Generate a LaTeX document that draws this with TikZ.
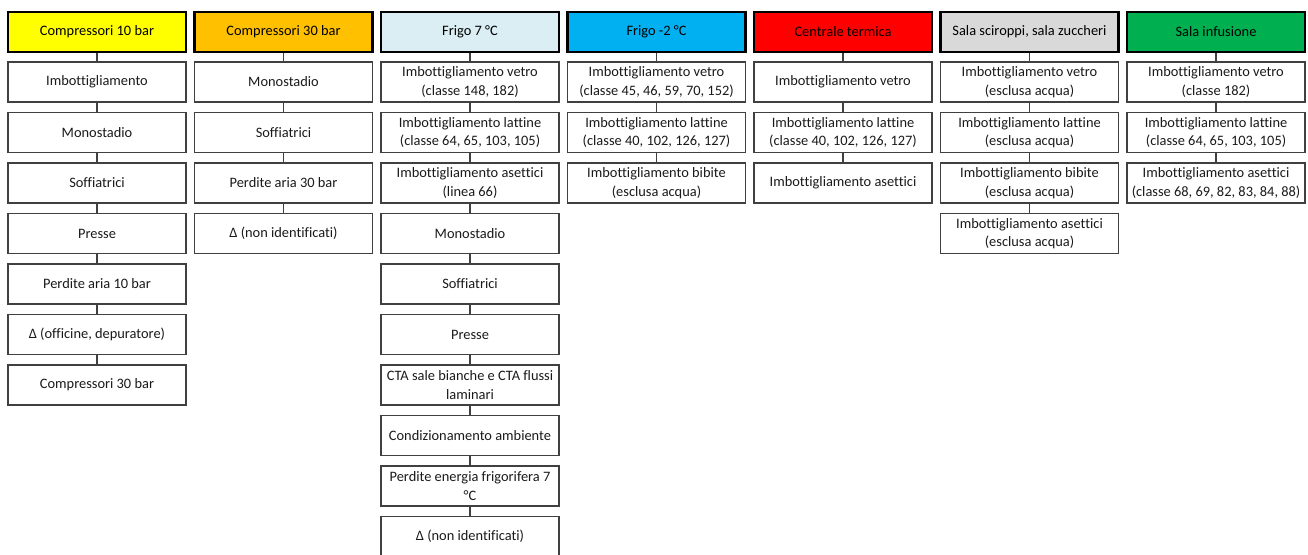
\documentclass[tikz,border=0pt]{standalone}
\usepackage{fontspec}
\setmainfont{Carlito}[Ligatures={NoCommon}]
\definecolor{cYellow}{HTML}{FFFF00}
\definecolor{cOrange}{HTML}{FFC000}
\definecolor{cIce}{HTML}{DAEEF3}
\definecolor{cCyan}{HTML}{00B0F0}
\definecolor{cRed}{HTML}{FF0000}
\definecolor{cGrey}{HTML}{D9D9D9}
\definecolor{cGreen}{HTML}{00B050}
\definecolor{cEdge}{HTML}{404040}
\definecolor{cInk}{HTML}{1A1A1A}
\begin{document}
\begin{tikzpicture}[x=1pt,y=-1pt,
  box/.style={rectangle, minimum width=178pt, minimum height=40pt, inner sep=0pt,
    align=center, font=\fontsize{14.4pt}{18.5pt}\selectfont},
  head/.style={box, draw=black, line width=2.4pt, text=black},
  item/.style={box, draw=cEdge, line width=1.3pt, fill=white, text=cInk},
  link/.style={draw=cEdge, line width=1.2pt}]
\useasboundingbox (0,0) rectangle (1308,554);
\fill[white] (0,0) rectangle (1308,554);

% column headers
\node[head, fill=cYellow] (h1) at (97,32)   {Compressori 10 bar};
\node[head, fill=cOrange] (h2) at (283.5,32) {Compressori 30 bar};
\node[head, fill=cIce]    (h3) at (470,32)  {Frigo 7 °C};
\node[head, fill=cCyan]   (h4) at (656.5,32) {Frigo -2 °C};
\node[head, fill=cRed]    (h5) at (843,32)  {Centrale termica};
\node[head, fill=cGrey]   (h6) at (1029.5,32) {Sala sciroppi, sala zuccheri};
\node[head, fill=cGreen]  (h7) at (1216,32) {Sala infusione};

% Compressori 10 bar
\node[item] (a1) at (97,82)    {Imbottigliamento};
\node[item] (a2) at (97,132.5) {Monostadio};
\node[item] (a3) at (97,183)   {Soffiatrici};
\node[item] (a4) at (97,233.5) {Presse};
\node[item] (a5) at (97,284)   {Perdite aria 10 bar};
\node[item] (a6) at (97,334.5) {Δ (officine, depuratore)};
\node[item] (a7) at (97,385)   {Compressori 30 bar};

% Compressori 30 bar
\node[item] (b1) at (283.5,82)    {Monostadio};
\node[item] (b2) at (283.5,132.5) {Soffiatrici};
\node[item] (b3) at (283.5,183)   {Perdite aria 30 bar};
\node[item] (b4) at (283.5,233.5) {Δ (non identificati)};

% Frigo 7 °C
\node[item] (c1)  at (470,82)    {Imbottigliamento vetro\\(classe 148, 182)};
\node[item] (c2)  at (470,132.5) {Imbottigliamento lattine\\(classe 64, 65, 103, 105)};
\node[item] (c3)  at (470,183)   {Imbottigliamento asettici\\(linea 66)};
\node[item] (c4)  at (470,233.5) {Monostadio};
\node[item] (c5)  at (470,284)   {Soffiatrici};
\node[item] (c6)  at (470,334.5) {Presse};
\node[item] (c7)  at (470,385)   {CTA sale bianche e CTA flussi\\laminari};
\node[item] (c8)  at (470,435.5) {Condizionamento ambiente};
\node[item] (c9)  at (470,486)   {Perdite energia frigorifera 7\\°C};
\node[item] (c10) at (470,536.5) {Δ (non identificati)};

% Frigo -2 °C
\node[item] (d1) at (656.5,82)    {Imbottigliamento vetro\\(classe 45, 46, 59, 70, 152)};
\node[item] (d2) at (656.5,132.5) {Imbottigliamento lattine\\(classe 40, 102, 126, 127)};
\node[item] (d3) at (656.5,183)   {Imbottigliamento bibite\\(esclusa acqua)};

% Centrale termica
\node[item] (e1) at (843,82)    {Imbottigliamento vetro};
\node[item] (e2) at (843,132.5) {Imbottigliamento lattine\\(classe 40, 102, 126, 127)};
\node[item] (e3) at (843,183)   {Imbottigliamento asettici};

% Sala sciroppi, sala zuccheri
\node[item] (f1) at (1029.5,82)    {Imbottigliamento vetro\\(esclusa acqua)};
\node[item] (f2) at (1029.5,132.5) {Imbottigliamento lattine\\(esclusa acqua)};
\node[item] (f3) at (1029.5,183)   {Imbottigliamento bibite\\(esclusa acqua)};
\node[item] (f4) at (1029.5,233.5) {Imbottigliamento asettici\\(esclusa acqua)};

% Sala infusione
\node[item] (g1) at (1216,82)    {Imbottigliamento vetro\\(classe 182)};
\node[item] (g2) at (1216,132.5) {Imbottigliamento lattine\\(classe 64, 65, 103, 105)};
\node[item] (g3) at (1216,183)   {Imbottigliamento asettici\\(classe 68, 69, 82, 83, 84, 88)};

% vertical chains
\foreach \u/\v in {h1/a1,a1/a2,a2/a3,a3/a4,a4/a5,a5/a6,a6/a7,
                   h2/b1,b1/b2,b2/b3,b3/b4,
                   h3/c1,c1/c2,c2/c3,c3/c4,c4/c5,c5/c6,c6/c7,c7/c8,c8/c9,c9/c10,
                   h4/d1,d1/d2,d2/d3,
                   h5/e1,e1/e2,e2/e3,
                   h6/f1,f1/f2,f2/f3,f3/f4,
                   h7/g1,g1/g2,g2/g3}
  \draw[link] (\u.south) -- (\v.north);
\end{tikzpicture}
\end{document}
